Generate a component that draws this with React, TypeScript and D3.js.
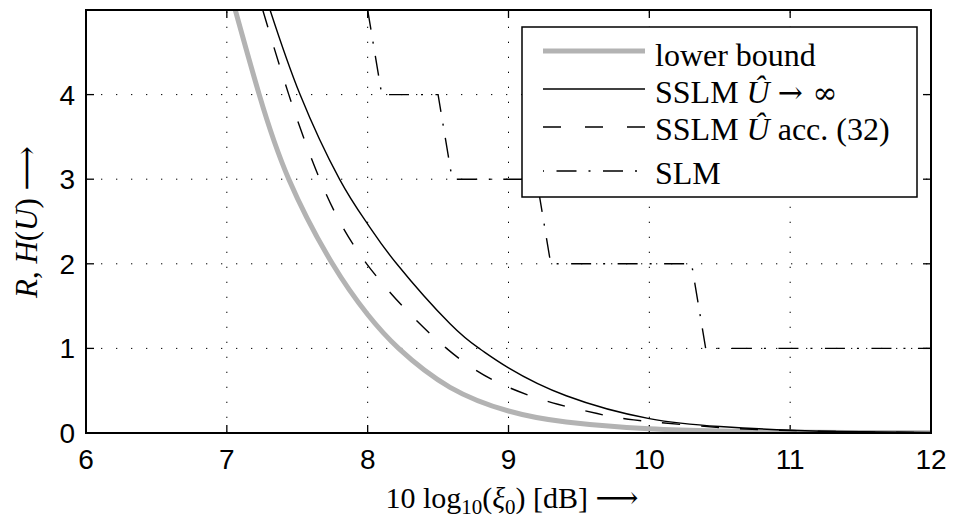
import React from "react";
import * as d3 from "d3";

// x: 10 log10(xi0) [dB], y: R, H(U)
const lowerBoundX = [7.06, 7.23, 7.44, 7.75, 8.0, 8.22, 8.585, 9.0, 9.41, 10.0, 10.5, 11.0, 11.5, 12.0];
const lowerBoundY = [5.0, 4.0, 3.0, 2.0, 1.4, 1.0, 0.54, 0.26, 0.13, 0.05, 0.024, 0.011, 0.005, 0.002];

const sslmInfX = [7.307, 7.52, 7.8, 8.0, 8.206, 8.585, 8.8, 9.0, 9.41, 10.0, 10.5, 11.0, 11.5, 12.0];
const sslmInfY = [5.0, 4.0, 3.0, 2.47, 2.0, 1.29, 0.99, 0.77, 0.44, 0.17, 0.077, 0.033, 0.014, 0.006];

const sslmAccX = [7.255, 7.44, 7.66, 7.993, 8.56, 9.0, 9.35, 9.63, 9.89, 10.5, 11.0, 11.5, 12.0];
const sslmAccY = [5.0, 4.0, 3.0, 2.0, 1.0, 0.54, 0.34, 0.23, 0.155, 0.065, 0.03, 0.013, 0.005];

const slmX = [8.0, 8.1, 8.5, 8.6, 9.2, 9.3, 10.3, 10.4, 12.0];
const slmY = [5.0, 4.0, 4.0, 3.0, 3.0, 2.0, 2.0, 1.0, 1.0];

const xTicks = [6, 7, 8, 9, 10, 11, 12];
const yTicks = [0, 1, 2, 3, 4];

const legendLabels = ["lower bound", "SSLM", "SSLM", "SLM"];

const W = 955;
const H = 526;
const L = 86, R = 931, T = 10, B = 433;

const SANS = "'Liberation Sans', Arial, Helvetica, sans-serif";
const SERIF = "'Liberation Serif', 'Times New Roman', 'DejaVu Serif', serif";
const MATH = "'DejaVu Serif', 'Liberation Serif', serif";

export default function App() {
  const x = d3.scaleLinear().domain([6, 12]).range([L, R]);
  const y = d3.scaleLinear().domain([0, 5]).range([B, T]);

  const smooth = d3
    .line<[number, number]>()
    .x((d) => x(d[0]))
    .y((d) => y(d[1]))
    .curve(d3.curveNatural);
  const straight = d3
    .line<[number, number]>()
    .x((d) => x(d[0]))
    .y((d) => y(d[1]));

  const zip = (a: number[], b: number[]) => a.map((v, i) => [v, b[i]] as [number, number]);

  const gridStyle = { stroke: "#000", strokeWidth: 1, strokeDasharray: "1.3,13.7" };
  const tickLen = 8;

  // legend
  const lgX = 522, lgY = 27, lgW = 395, lgH = 170;
  const lineX0 = 543, lineX1 = 645, textX = 655;
  const rowLineY = [51, 89, 127, 171];
  const rowTextY = [66, 103, 140, 184];

  return (
    <div style={{ position: "fixed", left: 0, top: 0, width: W, height: H, background: "#fff" }}>
      <svg width={W} height={H} viewBox={`0 0 ${W} ${H}`} style={{ display: "block" }}>
        <defs>
          <clipPath id="plotclip">
            <rect x={L} y={T} width={R - L} height={B - T} />
          </clipPath>
        </defs>
        <rect x={0} y={0} width={W} height={H} fill="#fff" />

        {/* grid */}
        {xTicks.slice(1, -1).map((t) => (
          <line key={"gx" + t} x1={x(t)} x2={x(t)} y1={B} y2={T} {...gridStyle} />
        ))}
        {yTicks.slice(1).map((t) => (
          <line key={"gy" + t} x1={L} x2={R} y1={y(t)} y2={y(t)} {...gridStyle} />
        ))}

        {/* ticks */}
        {xTicks.map((t) => (
          <g key={"tx" + t}>
            <line x1={x(t)} x2={x(t)} y1={B} y2={B - tickLen} stroke="#000" strokeWidth={1.3} />
            <line x1={x(t)} x2={x(t)} y1={T} y2={T + tickLen} stroke="#000" strokeWidth={1.3} />
          </g>
        ))}
        {yTicks.map((t) => (
          <g key={"ty" + t}>
            <line x1={L} x2={L + tickLen} y1={y(t)} y2={y(t)} stroke="#000" strokeWidth={1.3} />
            <line x1={R} x2={R - tickLen} y1={y(t)} y2={y(t)} stroke="#000" strokeWidth={1.3} />
          </g>
        ))}

        {/* curves */}
        <g clipPath="url(#plotclip)" fill="none">
          <path d={smooth(zip(lowerBoundX, lowerBoundY)) || ""} stroke="#b3b3b3" strokeWidth={5} />
          <path d={smooth(zip(sslmInfX, sslmInfY)) || ""} stroke="#000" strokeWidth={1.4} />
          <path d={smooth(zip(sslmAccX, sslmAccY)) || ""} stroke="#000" strokeWidth={1.4} strokeDasharray="18,21" />
          <path d={straight(zip(slmX, slmY)) || ""} stroke="#000" strokeWidth={1.4} strokeDasharray="20,12,2,12.5" />
        </g>

        {/* axes box */}
        <rect x={L} y={T} width={R - L} height={B - T} fill="none" stroke="#000" strokeWidth={2} />

        {/* tick labels */}
        {xTicks.map((t) => (
          <text key={"lx" + t} x={x(t)} y={469} textAnchor="middle" fontFamily={SANS} fontSize={28} fill="#000">
            {t}
          </text>
        ))}
        {yTicks.map((t) => (
          <text key={"ly" + t} x={L - 11} y={y(t) + 10} textAnchor="end" fontFamily={SANS} fontSize={28} fill="#000">
            {t}
          </text>
        ))}

        {/* axis labels */}
        <text x={512} y={508} textAnchor="middle" fontFamily={SERIF} fontSize={30} fill="#000">
          <tspan>10 log</tspan>
          <tspan fontSize={21} dy={6}>10</tspan>
          <tspan dy={-6}>(</tspan>
          <tspan fontStyle="italic">ξ</tspan>
          <tspan fontSize={21} dy={6}>0</tspan>
          <tspan dy={-6}>) [dB] </tspan>
          <tspan fontFamily={MATH}>⟶</tspan>
        </text>
        <text
          transform={`translate(37, 222) rotate(-90)`}
          textAnchor="middle"
          fontFamily={SERIF}
          fontSize={31}
          fill="#000"
        >
          <tspan fontStyle="italic">R</tspan>
          <tspan>, </tspan>
          <tspan fontStyle="italic">H</tspan>
          <tspan>(</tspan>
          <tspan fontStyle="italic">U</tspan>
          <tspan>) </tspan>
          <tspan fontFamily={MATH}>⟶</tspan>
        </text>

        {/* legend */}
        <rect x={lgX} y={lgY} width={lgW} height={lgH} fill="#fff" stroke="#000" strokeWidth={1.5} />
        <line x1={lineX0} x2={lineX1} y1={rowLineY[0]} y2={rowLineY[0]} stroke="#b3b3b3" strokeWidth={5} />
        <line x1={lineX0} x2={lineX1} y1={rowLineY[1]} y2={rowLineY[1]} stroke="#000" strokeWidth={1.4} />
        <line x1={lineX0} x2={lineX1} y1={rowLineY[2]} y2={rowLineY[2]} stroke="#000" strokeWidth={1.4} strokeDasharray="18,24" />
        <line x1={lineX0} x2={lineX1} y1={rowLineY[3]} y2={rowLineY[3]} stroke="#000" strokeWidth={1.4} strokeDasharray="20,12,2,12.5" strokeDashoffset={33} />

        <text x={textX} y={rowTextY[0]} fontFamily={SERIF} fontSize={32} fill="#000">{legendLabels[0]}</text>
        <text x={textX} y={rowTextY[1]} fontFamily={SERIF} fontSize={32} fill="#000">
          <tspan>{legendLabels[1]} </tspan>
          <tspan fontStyle="italic">Û</tspan>
          <tspan> </tspan>
          <tspan fontFamily={MATH} fontSize={30}>→ ∞</tspan>
        </text>
        <text x={textX} y={rowTextY[2]} fontFamily={SERIF} fontSize={32} fill="#000">
          <tspan>{legendLabels[2]} </tspan>
          <tspan fontStyle="italic">Û</tspan>
          <tspan> acc. (32)</tspan>
        </text>
        <text x={textX} y={rowTextY[3]} fontFamily={SERIF} fontSize={32} fill="#000">{legendLabels[3]}</text>
      </svg>
    </div>
  );
}
